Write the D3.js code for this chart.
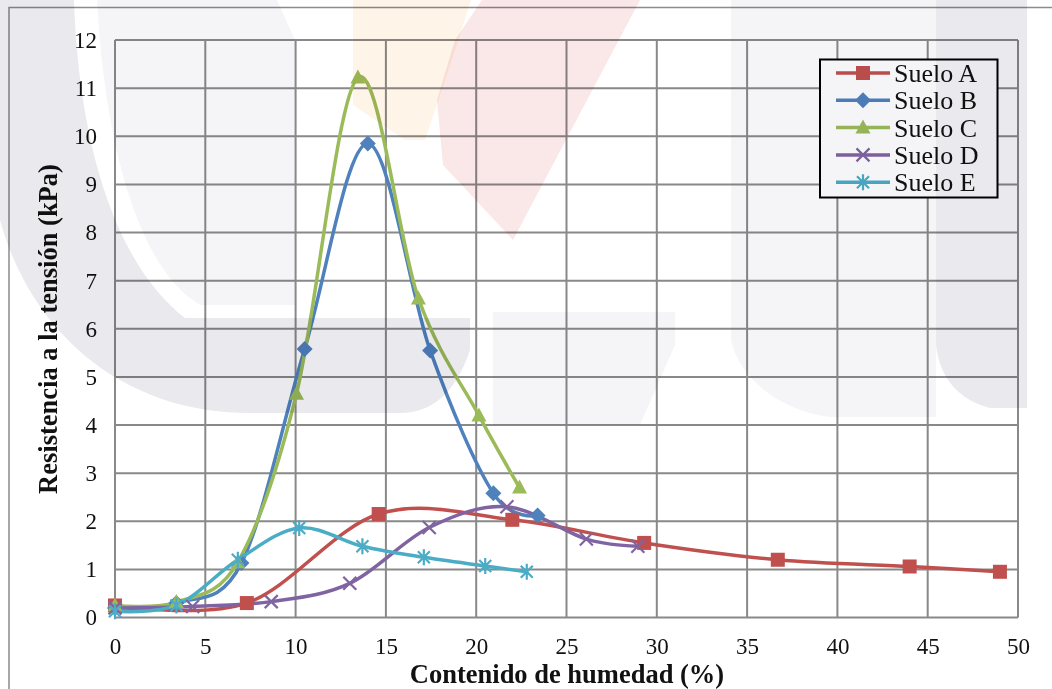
<!DOCTYPE html>
<html><head><meta charset="utf-8">
<script src="https://cdn.jsdelivr.net/npm/d3@7"></script>
<style>
html,body{margin:0;padding:0;background:#fff;}
svg{display:block;}
.wm{mix-blend-mode:multiply;}
</style></head>
<body>
<svg id="chart" width="1052" height="689"></svg>
<script>
// ---- data ----
const seriesNames = ["Suelo A", "Suelo B", "Suelo C", "Suelo D", "Suelo E"];
const xA = [0, 7.3, 14.6, 22, 29.3, 36.7, 44, 49];
const yA = [0.25, 0.3, 2.15, 2.03, 1.55, 1.2, 1.06, 0.95];
const xB = [0, 3.4, 7.0, 10.5, 14.0, 17.45, 20.95, 23.4];
const yB = [0.2, 0.3, 1.13, 5.58, 9.85, 5.55, 2.58, 2.12];
const xC = [0, 3.4, 6.8, 10.05, 13.45, 16.8, 20.15, 22.4];
const yC = [0.25, 0.32, 1.15, 4.65, 11.22, 6.63, 4.2, 2.7];
const xD = [0, 4.3, 8.65, 13.0, 17.4, 21.7, 26.1, 28.95];
const yD = [0.2, 0.23, 0.33, 0.71, 1.87, 2.3, 1.63, 1.48];
const xE = [0, 3.4, 6.8, 10.2, 13.7, 17.1, 20.5, 22.8];
const yE = [0.13, 0.25, 1.2, 1.86, 1.48, 1.25, 1.07, 0.95];
const xTicks = [0, 5, 10, 15, 20, 25, 30, 35, 40, 45, 50];
const yTicks = [0, 1, 2, 3, 4, 5, 6, 7, 8, 9, 10, 11, 12];
const colors = ["#C0504D", "#4F81BD", "#9BBB59", "#8064A2", "#4BACC6"];
const markers = ["square", "diamond", "triangle", "x", "star"];
const xTitle = "Contenido de humedad (%)";
const yTitle = "Resistencia a la tensión (kPa)";

const series = [[xA,yA],[xB,yB],[xC,yC],[xD,yD],[xE,yE]].map((s,i)=>({
  name: seriesNames[i], color: colors[i], marker: markers[i],
  pts: s[0].map((x,j)=>({x, y: s[1][j]}))
}));

const svg = d3.select("#chart");
const font = "'Liberation Serif','Times New Roman',serif";
const x = d3.scaleLinear().domain([0,50]).range([115,1018]);
const y = d3.scaleLinear().domain([0,12]).range([617.5,40]);
const gridColor = "#898989";

// outer frame
svg.append("path").attr("d","M9,689 L9,7.5 L1052,7.5").attr("fill","none").attr("stroke","#8c8c8c").attr("stroke-width",1.5);

// grid
const g = svg.append("g");
g.selectAll(".vg").data(xTicks).join("line")
  .attr("x1",d=>x(d)).attr("x2",d=>x(d)).attr("y1",y(0)).attr("y2",y(12))
  .attr("stroke",gridColor).attr("stroke-width",2);
g.selectAll(".hg").data(yTicks).join("line")
  .attr("y1",d=>y(d)).attr("y2",d=>y(d)).attr("x1",x(0)).attr("x2",x(50))
  .attr("stroke",gridColor).attr("stroke-width",2);

// axes labels via d3 axes
const xAxis = d3.axisBottom(x).tickValues(xTicks).tickSize(0).tickPadding(20);
const xg = svg.append("g").attr("transform",`translate(0,${y(0)})`).call(xAxis);
xg.select(".domain").remove();
xg.selectAll("text").attr("font-family",font).attr("font-size",23).attr("fill","#111");
const yAxis = d3.axisLeft(y).tickValues(yTicks).tickSize(0).tickPadding(18);
const yg = svg.append("g").attr("transform",`translate(${x(0)},0)`).call(yAxis);
yg.select(".domain").remove();
yg.selectAll("text").attr("font-family",font).attr("font-size",23).attr("fill","#111");

// titles
svg.append("text").attr("x",567).attr("y",683).attr("text-anchor","middle")
  .attr("font-family",font).attr("font-weight","bold").attr("font-size",26.5).attr("fill","#111").text(xTitle);
svg.append("text").attr("transform","translate(57,329) rotate(-90)").attr("text-anchor","middle")
  .attr("font-family",font).attr("font-weight","bold").attr("font-size",26.5).attr("fill","#111").text(yTitle);

// marker drawing
function drawMarker(sel, type, color){
  if(type==="square"){
    sel.append("rect").attr("x",-7).attr("y",-7).attr("width",14).attr("height",14).attr("fill",color);
  } else if(type==="diamond"){
    sel.append("path").attr("d","M0,-8 L8,0 L0,8 L-8,0 Z").attr("fill",color);
  } else if(type==="triangle"){
    sel.append("path").attr("d","M0,-8 L7.5,6 L-7.5,6 Z").attr("fill",color);
  } else if(type==="x"){
    sel.append("path").attr("d","M-6.5,-6.5 L6.5,6.5 M-6.5,6.5 L6.5,-6.5").attr("stroke",color).attr("stroke-width",2.2).attr("fill","none");
  } else if(type==="star"){
    sel.append("path").attr("d","M-6,-6 L6,6 M-6,6 L6,-6 M0,-8 L0,8").attr("stroke",color).attr("stroke-width",2.2).attr("fill","none");
  }
}

const line = d3.line().x(d=>x(d.x)).y(d=>y(d.y)).curve(d3.curveCardinal.tension(0));
const sg = svg.append("g");
series.forEach(s=>{
  sg.append("path").attr("d",line(s.pts)).attr("fill","none").attr("stroke",s.color)
    .attr("stroke-width",3.5).attr("stroke-linejoin","round").attr("stroke-linecap","round");
});
series.forEach(s=>{
  s.pts.forEach(p=>{
    const m = sg.append("g").attr("transform",`translate(${x(p.x)},${y(p.y)})`);
    drawMarker(m, s.marker, s.color);
  });
});

// legend
const lg = svg.append("g");
lg.append("rect").attr("x",820).attr("y",59.5).attr("width",177.5).attr("height",138).attr("fill","#fff").attr("stroke","#000").attr("stroke-width",2);
series.forEach((s,i)=>{
  const cy = 73 + i*27.3;
  lg.append("line").attr("x1",836).attr("x2",890).attr("y1",cy).attr("y2",cy).attr("stroke",s.color).attr("stroke-width",3.5);
  const m = lg.append("g").attr("transform",`translate(863,${cy})`);
  drawMarker(m, s.marker, s.color);
  lg.append("text").attr("x",894).attr("y",cy+9).attr("font-family",font).attr("font-size",26).attr("fill","#111").text(s.name);
});

// watermark overlay (decorative background print)
const wm = svg.append("g").attr("class","wm");
const dark = "#e9e9ee", light = "#f5f5f8";
wm.append("path").attr("fill",dark).attr("class","wm")
  .attr("d","M0,0 L74,0 C78,130 110,260 185,318 L470,318 L470,350 C455,395 430,413 400,413 L250,413 C120,413 30,330 0,220 Z");
wm.append("path").attr("fill",light).attr("class","wm")
  .attr("d","M97,0 L277,0 L295,40 L295,305 L200,305 C140,270 105,150 97,0 Z");
wm.append("path").attr("fill","#fef4e8").attr("class","wm")
  .attr("d","M353,0 L471,0 L455,50 L425,140 L405,140 L353,105 Z");
wm.append("path").attr("fill","#fae7e8").attr("class","wm")
  .attr("d","M482,0 L640,0 L513,240 L443,165 L437,100 L455,40 Z");
wm.append("path").attr("fill",light).attr("class","wm")
  .attr("d","M493,312 L675,312 L675,345 L640,425 L493,425 Z");
wm.append("path").attr("fill",light).attr("class","wm")
  .attr("d","M731,0 L936,0 L936,417 L830,417 C780,410 740,380 731,340 Z");
wm.append("path").attr("fill",dark).attr("class","wm")
  .attr("d","M936,0 L1027,0 L1027,408 L990,408 C960,400 940,380 936,345 Z");
</script>
</body></html>
